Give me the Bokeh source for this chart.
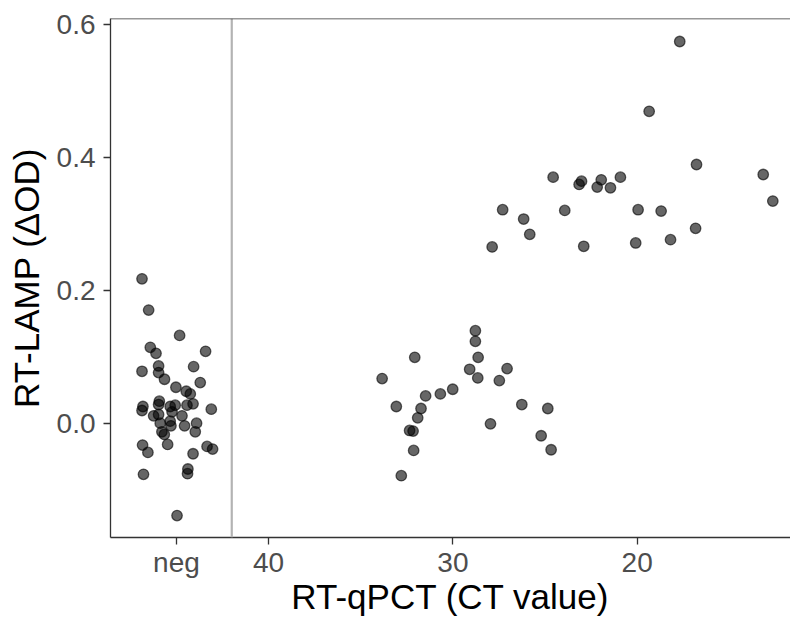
from bokeh.plotting import figure
from bokeh.models import Range1d, FixedTicker, Span
from bokeh.embed import file_html
from bokeh.resources import INLINE

# Negative samples (jittered around the "neg" position, 45)
neg_ct = [46.87, 46.51, 44.83, 46.42, 46.11, 43.42, 45.97, 46.87, 44.07, 45.97,
          45.65, 43.71, 45.03, 44.47, 44.25, 45.93, 46.82, 46.87, 45.97, 45.34,
          45.07, 44.43, 44.10, 43.11, 46.24, 45.97, 45.24, 44.70, 45.88, 45.34,
          45.30, 44.56, 43.91, 43.98, 45.79, 45.66, 46.84, 46.55, 45.48, 44.10,
          43.34, 43.04, 46.79, 44.38, 44.40, 44.97]
neg_od = [0.218, 0.171, 0.133, 0.115, 0.106, 0.109, 0.087, 0.079, 0.086, 0.077,
          0.067, 0.062, 0.055, 0.049, 0.045, 0.034, 0.026, 0.020, 0.029, 0.026,
          0.028, 0.028, 0.030, 0.022, 0.012, 0.014, 0.018, 0.012, 0.001, 0.004,
          -0.003, -0.003, 0.001, -0.012, -0.012, -0.016, -0.032, -0.043, -0.031, -0.045,
          -0.034, -0.038, -0.076, -0.068, -0.075, -0.138]

# Positive samples (CT value vs delta OD)
pos_ct = [28.78, 28.78, 32.07, 28.63, 33.84, 29.09, 28.65, 27.06, 27.48, 30.01,
          30.68, 31.48, 33.07, 31.73, 31.91, 26.26, 24.85, 32.35, 32.16, 27.96,
          25.21, 24.67, 32.13, 32.80,
          17.69, 19.35, 16.78, 13.16, 12.64, 24.56, 23.02, 23.15, 21.95, 22.17,
          21.45, 20.91, 27.30, 26.16, 25.83, 27.87, 23.93, 22.90, 19.95, 18.70,
          20.08, 18.19, 16.83]
pos_od = [0.140, 0.124, 0.100, 0.100, 0.068, 0.082, 0.069, 0.083, 0.065, 0.052,
          0.045, 0.042, 0.026, 0.023, 0.009, 0.029, 0.023, -0.010, -0.011, 0.000,
          -0.018, -0.039, -0.040, -0.078,
          0.575, 0.470, 0.390, 0.375, 0.335, 0.371, 0.365, 0.360, 0.367, 0.356,
          0.355, 0.371, 0.322, 0.308, 0.285, 0.266, 0.321, 0.267, 0.322, 0.320,
          0.272, 0.277, 0.294]

x_ticks = [45, 40, 30, 20]
x_tick_labels = ["neg", "40", "30", "20"]
y_ticks = [0.0, 0.2, 0.4, 0.6]
y_tick_labels = ["0.0", "0.2", "0.4", "0.6"]
divider_ct = 42

FONT = "Liberation Sans"

p = figure(width=790, height=621, output_backend="svg", toolbar_location=None,
           x_range=Range1d(48.58, 11.68), y_range=Range1d(-0.171, 0.6096),
           min_border_left=110, min_border_right=0, min_border_top=18, min_border_bottom=84)
p.grid.visible = False
p.outline_line_color = None
p.background_fill_color = "white"

p.add_layout(Span(location=divider_ct, dimension="height", line_color="#b3b3b3", line_width=2.2))
p.add_layout(Span(location=0.6096, dimension="width", line_color="#333333", line_width=1.3))

for xs, ys in ((neg_ct, neg_od), (pos_ct, pos_od)):
    p.scatter(xs, ys, size=10.5, fill_color="black", fill_alpha=0.6,
              line_color="black", line_alpha=0.6, line_width=1.3)

p.xaxis.ticker = FixedTicker(ticks=x_ticks)
p.xaxis.major_label_overrides = dict(zip(x_ticks, x_tick_labels))
p.yaxis.ticker = FixedTicker(ticks=y_ticks)
p.yaxis.major_label_overrides = dict(zip(y_ticks, y_tick_labels))

for ax in (p.xaxis, p.yaxis):
    ax.axis_line_color = "#333333"
    ax.axis_line_width = 1.3
    ax.major_tick_line_color = "#333333"
    ax.major_tick_line_width = 1.3
    ax.major_tick_out = 7
    ax.major_tick_in = 0
    ax.minor_tick_line_color = None
    ax.major_label_text_font = FONT
    ax.major_label_text_font_size = "28px"
    ax.major_label_text_color = "#4d4d4d"
    ax.axis_label_text_font = FONT
    ax.axis_label_text_font_size = "35px"
    ax.axis_label_text_font_style = "normal"
    ax.axis_label_text_color = "black"

p.xaxis.axis_label = "RT-qPCT (CT value)"
p.yaxis.axis_label = "RT-LAMP (ΔOD)"
p.xaxis.major_label_standoff = 2
p.yaxis.major_label_standoff = 8
p.xaxis.axis_label_standoff = -4
p.yaxis.axis_label_standoff = 8

open("out.html", "w").write(file_html(p, INLINE))
